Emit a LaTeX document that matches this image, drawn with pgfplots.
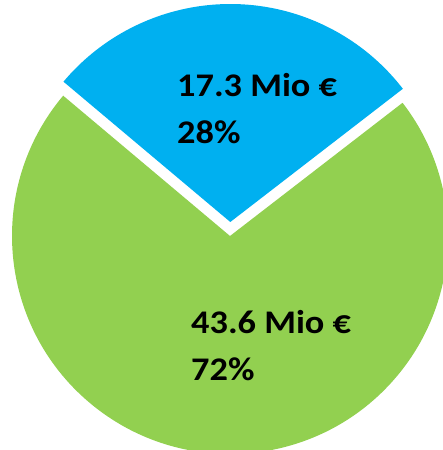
\documentclass[border=0pt]{standalone}
\usepackage{pgfplots}
\pgfplotsset{compat=1.18}
\usepackage{fontspec}
\setmainfont{Carlito}[FakeStretch=1.1]
\definecolor{pieblue}{HTML}{00B0F0}
\definecolor{piegreen}{HTML}{92D050}
\begin{document}
\begin{tikzpicture}
\pgfmathsetmacro{\va}{17.3}
\pgfmathsetmacro{\vb}{43.6}
\pgfmathsetmacro{\spanA}{360*\va/(\va+\vb)}
\pgfmathsetmacro{\sa}{88.8-\spanA/2}
\pgfmathsetmacro{\ea}{88.8+\spanA/2}
\pgfmathsetmacro{\eb}{\sa+360}
\begin{axis}[x=1pt,y=1pt,xmin=-230,xmax=213,ymin=-214,ymax=236,
  hide axis, clip=true, scale only axis]
\fill[piegreen] (axis cs:0,0) -- ++(\ea:218pt) arc[start angle=\ea, end angle=\eb, radius=218pt] -- cycle;
\fill[pieblue] (axis cs:0.3,14) -- ++(\sa:218pt) arc[start angle=\sa, end angle=\ea, radius=218pt] -- cycle;
\tikzset{lbl/.style={anchor=base west, inner sep=0pt, font=\bfseries\fontsize{33}{40}\selectfont}}
\node[lbl] at (axis cs:-53,139) {17.3 Mio €};
\node[lbl] at (axis cs:-53,92) {28\%};
\node[lbl] at (axis cs:-39,-98) {43.6 Mio €};
\node[lbl] at (axis cs:-39,-145) {72\%};
\end{axis}
\pgfresetboundingbox
\path (current axis.south west) rectangle (current axis.north east);
\end{tikzpicture}
\end{document}
